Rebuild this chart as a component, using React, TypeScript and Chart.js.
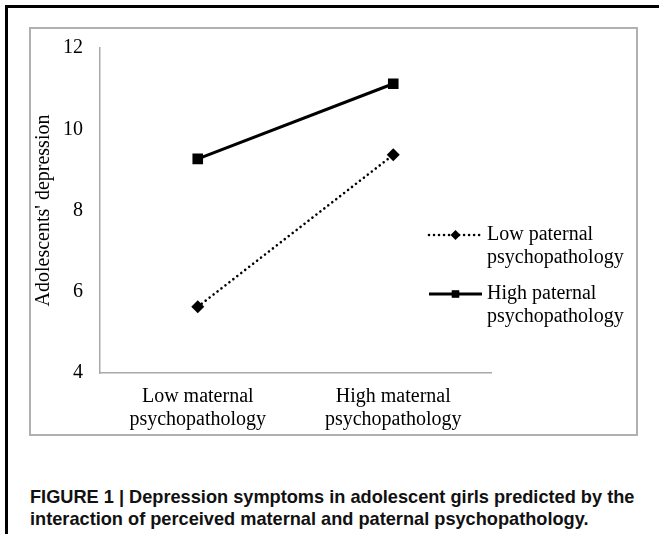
import React, { useEffect, useRef } from "react";
import { Chart, registerables } from "chart.js";

Chart.register(...registerables);

const categories: string[][] = [
  ["Low maternal", "psychopathology"],
  ["High maternal", "psychopathology"],
];
const seriesNames: string[][] = [
  ["Low paternal", "psychopathology"],
  ["High paternal", "psychopathology"],
];
const lowPaternal: number[] = [5.63, 9.37];
const highPaternal: number[] = [9.27, 11.12];
const yTicks: number[] = [4, 6, 8, 10, 12];
const yTitle = "Adolescents' depression";
const captionLines: string[] = [
  "FIGURE 1 | Depression symptoms in adolescent girls predicted by the",
  "interaction of perceived maternal and paternal psychopathology.",
];

const SERIF = "'Liberation Serif', 'Times New Roman', Times, serif";
const SANS = "'Liberation Sans', Arial, Helvetica, sans-serif";

const legendPlugin = {
  id: "customLegend",
  afterDraw(chart: any) {
    const { ctx, chartArea } = chart;
    const x1 = chartArea.right - 62;
    const x2 = chartArea.right - 9;
    const cx = (x1 + x2) / 2;
    const textX = chartArea.right - 4;
    const offsets = [187, 246];
    ctx.save();
    chart.data.datasets.forEach((ds: any, i: number) => {
      const y = chartArea.top + offsets[i];
      ctx.strokeStyle = "#000";
      ctx.fillStyle = "#000";
      ctx.lineWidth = ds.borderWidth;
      ctx.lineCap = ds.borderCapStyle || "butt";
      ctx.setLineDash(ds.borderDash || []);
      ctx.beginPath();
      ctx.moveTo(x1, y);
      ctx.lineTo(x2, y);
      ctx.stroke();
      ctx.setLineDash([]);
      ctx.beginPath();
      if (ds.pointStyle === "rectRot") {
        const r = 5;
        ctx.moveTo(cx - r, y);
        ctx.lineTo(cx, y - r);
        ctx.lineTo(cx + r, y);
        ctx.lineTo(cx, y + r);
        ctx.closePath();
      } else {
        const h = 3.8;
        ctx.rect(cx - h, y - h, 2 * h, 2 * h);
      }
      ctx.fill();
      ctx.font = `20px ${SERIF}`;
      ctx.textAlign = "left";
      ctx.textBaseline = "middle";
      const lines = String(ds.label).split("\n");
      lines.forEach((ln: string, k: number) => {
        ctx.fillText(ln, textX, y + k * 23);
      });
    });
    ctx.restore();
  },
};

export default function App() {
  const canvasRef = useRef<HTMLCanvasElement | null>(null);

  useEffect(() => {
    const canvas = canvasRef.current;
    if (!canvas) return;
    const chart = new Chart(canvas, {
      type: "line",
      data: {
        labels: categories,
        datasets: [
          {
            label: seriesNames[0].join("\n"),
            data: lowPaternal,
            borderColor: "#000",
            backgroundColor: "#000",
            borderWidth: 2.6,
            borderDash: [0.01, 5],
            borderCapStyle: "round",
            pointStyle: "rectRot",
            pointRadius: 6.5,
            pointBackgroundColor: "#000",
            pointBorderWidth: 0,
            fill: false,
            tension: 0,
          },
          {
            label: seriesNames[1].join("\n"),
            data: highPaternal,
            borderColor: "#000",
            backgroundColor: "#000",
            borderWidth: 3,
            borderDash: [],
            pointStyle: "rect",
            pointRadius: 7.5,
            pointBackgroundColor: "#000",
            pointBorderWidth: 0,
            fill: false,
            tension: 0,
          },
        ],
      } as any,
      options: {
        animation: false,
        responsive: true,
        maintainAspectRatio: false,
        layout: { padding: { top: 19, right: 145, left: 0, bottom: 0 } },
        plugins: {
          legend: { display: false },
          tooltip: { enabled: false },
          title: { display: false },
        },
        scales: {
          x: {
            type: "category",
            offset: true,
            grid: { display: false, drawTicks: false },
            border: { display: true, color: "#a9a9a9", width: 1.5 },
            ticks: {
              color: "#000",
              padding: 12,
              maxRotation: 0,
              autoSkip: false,
              font: { family: SERIF, size: 20, lineHeight: 1.15 },
            },
            afterFit(scale: any) {
              scale.height = 61;
              scale.paddingLeft = 0;
              scale.paddingRight = 0;
            },
          },
          y: {
            type: "linear",
            min: 4,
            max: 12,
            grid: { display: false, drawTicks: false },
            border: { display: true, color: "#a9a9a9", width: 1.5 },
            ticks: {
              color: "#000",
              padding: 17,
              font: { family: SERIF, size: 20 },
            },
            afterBuildTicks(scale: any) {
              scale.ticks = yTicks.map((v) => ({ value: v }));
            },
            title: {
              display: true,
              text: yTitle,
              color: "#000",
              padding: { top: 1, bottom: 0 },
              font: { family: SERIF, size: 20, lineHeight: 1.15 },
            },
            afterFit(scale: any) {
              scale.width = 69;
              scale.paddingTop = 0;
              scale.paddingBottom = 0;
            },
          },
        },
      } as any,
      plugins: [legendPlugin],
    });
    return () => chart.destroy();
  }, []);

  return (
    <div
      style={{
        position: "absolute",
        left: 0,
        top: 0,
        width: 659,
        height: 534,
        overflow: "hidden",
        background: "#fff",
      }}
    >
      <div
        style={{
          position: "absolute",
          left: 5,
          top: 5,
          width: 700,
          height: 600,
          borderTop: "3px solid #000",
          borderLeft: "3px solid #000",
        }}
      />
      <div
        style={{
          position: "absolute",
          left: 29,
          top: 27,
          width: 605,
          height: 405,
          border: "2px solid #b0b0b0",
        }}
      >
        <div style={{ position: "relative", width: 605, height: 405 }}>
          <canvas ref={canvasRef} />
        </div>
      </div>
      <div
        style={{
          position: "absolute",
          left: 30,
          top: 486,
          fontFamily: SANS,
          fontWeight: "bold",
          fontSize: 18.2,
          lineHeight: "22px",
          color: "#111",
          whiteSpace: "nowrap",
        }}
      >
        {captionLines.map((l, i) => (
          <div key={i}>{l}</div>
        ))}
      </div>
    </div>
  );
}
